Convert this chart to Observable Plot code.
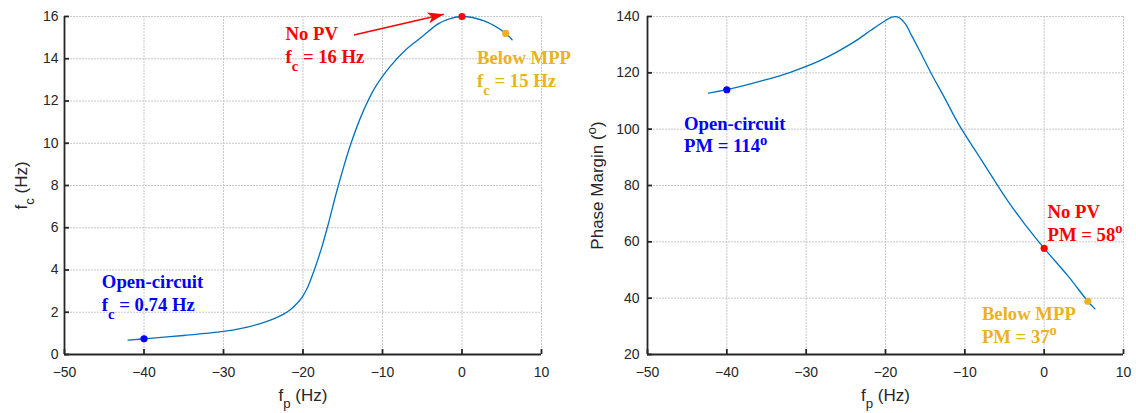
<!DOCTYPE html>
<html><head><meta charset="utf-8">
<script src="https://cdn.jsdelivr.net/npm/d3@7"></script>
<script src="https://cdn.jsdelivr.net/npm/@observablehq/plot@0.6"></script>
<style>
body{margin:0;background:#fff;}
#wrap{display:flex;width:1136px;height:413px;background:#fff;}
#wrap svg{overflow:visible;}
svg text{white-space:pre;}
</style></head><body><div id="wrap"></div>
<script>
// ---- data ----
const fpCurveA = [-42, -40, -35, -30, -27.9, -25.5, -23.7, -22.5, -21.6, -20.8, -20.1, -19.4, -18.6, -17.7, -16.8, -15.7, -14, -12.5, -11, -9, -7, -5, -3, -1.5, 0, 2.7, 5.5, 6.3];
const fcCurve  = [0.68, 0.74, 0.9, 1.09, 1.22, 1.45, 1.69, 1.9, 2.12, 2.4, 2.72, 3.2, 3.98, 5.0, 6.2, 7.8, 9.95, 11.45, 12.6, 13.65, 14.45, 15.05, 15.65, 15.9, 16.0, 15.8, 15.2, 14.9];
const fpCurveB = [-42.3, -40, -35.4, -32, -28.2, -24, -21.9, -20.2, -19.2, -18.4, -17.5, -16.7, -15.6, -14.2, -12.7, -10.8, -7.6, -4.7, -2.5, 0, 3, 5.5, 6.4];
const pmCurve  = [112.8, 114, 117.3, 120.2, 124.4, 130.9, 135, 138.2, 139.8, 139.8, 137.4, 133.2, 127.3, 119.6, 111.9, 101.9, 87.7, 75, 66.5, 57.7, 47.9, 38.9, 36.2];

const caseNames = ["Open-circuit", "No PV", "Below MPP"];
const caseFp = [-40, 0, 5.5];
const caseFc = [0.74, 16, 15.2];
const casePm = [114, 57.7, 38.9];
const fcLabels = ["Open-circuit\nf_c = 0.74 Hz", "No PV\nf_c = 16 Hz", "Below MPP\nf_c = 15 Hz"];
const pmLabels = ["Open-circuit\nPM = 114^o", "No PV\nPM = 58^o", "Below MPP\nPM = 37^o"];

const xTicks = [-50, -40, -30, -20, -10, 0, 10];
const fcTicks = [0, 2, 4, 6, 8, 10, 12, 14, 16];
const pmTicks = [20, 40, 60, 80, 100, 120, 140];

// ---- styles ----
const caseColors = {"Open-circuit": "#0000FF", "No PV": "#FF0000", "Below MPP": "#EDB120"};
const lineColor = "#0072BD";
const axisColor = "#262626";
const gridColor = "#c8c8c8";

const curveA = fpCurveA.map((x, i) => ({x, y: fcCurve[i]}));
const curveB = fpCurveB.map((x, i) => ({x, y: pmCurve[i]}));
const caseA = caseNames.map((n, i) => ({name: n, x: caseFp[i], y: caseFc[i], label: fcLabels[i]}));
const caseB = caseNames.map((n, i) => ({name: n, x: caseFp[i], y: casePm[i], label: pmLabels[i]}));

// annotation anchor positions (data units)
const labelPosA = [[-45.3, 3.9], [-22.2, 15.65], [1.9, 14.5]];
const labelPosB = [[-45.4, 105.6], [0.42, 74.3], [-7.85, 38]];
const arrowA = {x1: -13.6, y1: 15.12, x2: -2.3, y2: 16.11};

// filled notched arrow head for Plot.vector
const headShape = {
  draw(context, l) {
    context.moveTo(0, -l);
    context.lineTo(-5.5, 0);
    context.lineTo(0, -4);
    context.lineTo(5.5, 0);
    context.closePath();
  }
};

function panel({data, cases, labelPos, yDomain, yTicks, yLabel, marginLeft, marginRight, yPad, yLabelDx, extra = []}) {
  const xMin = -50, yMin = yDomain[0];
  const labels = cases.map((c, i) => ({...c, lx: labelPos[i][0], ly: labelPos[i][1]}));
  return Plot.plot({
    width: 568, height: 413,
    marginTop: 16, marginBottom: 59, marginLeft, marginRight,
    style: {fontFamily: "'Liberation Sans', Arial, sans-serif", fontSize: "14px", color: axisColor, background: "none", overflow: "visible"},
    x: {domain: [-50, 10]},
    y: {domain: yDomain},
    marks: [
      Plot.ruleX(xTicks, {stroke: gridColor, strokeDasharray: "2,1"}),
      Plot.ruleY(yTicks, {stroke: gridColor, strokeDasharray: "2,1"}),
      Plot.ruleY([yMin], {stroke: axisColor, strokeWidth: 1.8}),
      Plot.ruleX([xMin], {stroke: axisColor, strokeWidth: 1.8}),
      Plot.ruleX(xTicks, {y1: yMin, y2: yMin, insetTop: -5, stroke: axisColor, strokeWidth: 1.8}),
      Plot.ruleY(yTicks, {x1: xMin, x2: xMin, insetRight: -5, stroke: axisColor, strokeWidth: 1.8}),
      Plot.axisX({ticks: xTicks, tickSize: 0, tickPadding: 13, label: null, fill: axisColor}),
      Plot.axisY({ticks: yTicks, tickSize: 0, tickPadding: yPad, label: null, fill: axisColor}),
      Plot.line(data, {x: "x", y: "y", stroke: lineColor, strokeWidth: 1.3, curve: "catmull-rom"}),
      Plot.dot(cases, {x: "x", y: "y", r: 3.6, fill: d => caseColors[d.name], stroke: "none"}),
      ...extra,
      Plot.text(labels, {x: "lx", y: "ly", text: "label", fill: d => caseColors[d.name], textAnchor: "start", lineAnchor: "top", lineHeight: 1.22, fontSize: 18.7, fontWeight: "bold", fontFamily: "'Liberation Serif', 'Times New Roman', serif"}),
      Plot.text(["f_p (Hz)"], {frameAnchor: "bottom", textAnchor: "middle", lineAnchor: "middle", dy: 41, fontSize: 17, fill: axisColor}),
      Plot.text([yLabel], {frameAnchor: "left", textAnchor: "middle", lineAnchor: "middle", rotate: -90, dx: yLabelDx, fontSize: 17, fill: axisColor})
    ]
  });
}

function richify(svg) {
  const nodes = Array.from(svg.querySelectorAll("text, tspan")).filter(n => n.children.length === 0 && /[_^]/.test(n.textContent));
  for (const node of nodes) {
    const s = node.textContent;
    node.textContent = "";
    const parts = s.split(/([_^].)/);
    let shift = 0;
    for (const p of parts) {
      if (!p) continue;
      const t = document.createElementNS("http://www.w3.org/2000/svg", "tspan");
      if (p[0] === "_" || p[0] === "^") {
        const down = p[0] === "_" ? 0.42 : -0.42;
        t.setAttribute("font-size", "78%");
        t.setAttribute("dy", (down / 0.78).toFixed(3) + "em");
        shift = down;
        t.textContent = p[1];
      } else {
        if (shift !== 0) t.setAttribute("dy", (-shift).toFixed(3) + "em");
        shift = 0;
        t.textContent = p;
      }
      node.appendChild(t);
    }
  }
}

const wrap = document.getElementById("wrap");
const left = panel({
  data: curveA, cases: caseA, labelPos: labelPosA, yDomain: [0, 16], yTicks: fcTicks,
  yLabel: "f_c (Hz)", marginLeft: 64, marginRight: 27, yPad: 6, yLabelDx: -43,
  extra: [
    Plot.link([arrowA], {x1: "x1", y1: "y1", x2: "x2", y2: "y2", stroke: "#FF0000", strokeWidth: 1.6}),
    Plot.vector([arrowA], {x: "x2", y: "y2", length: 16, rotate: 76.9, anchor: "end", shape: headShape, fill: "#FF0000", stroke: "none"})
  ]
});
const right = panel({
  data: curveB, cases: caseB, labelPos: labelPosB, yDomain: [20, 140], yTicks: pmTicks,
  yLabel: "Phase Margin (^o)", marginLeft: 79, marginRight: 13, yPad: 8, yLabelDx: -50
});
wrap.appendChild(left);
wrap.appendChild(right);
richify(left);
richify(right);
</script></body></html>
